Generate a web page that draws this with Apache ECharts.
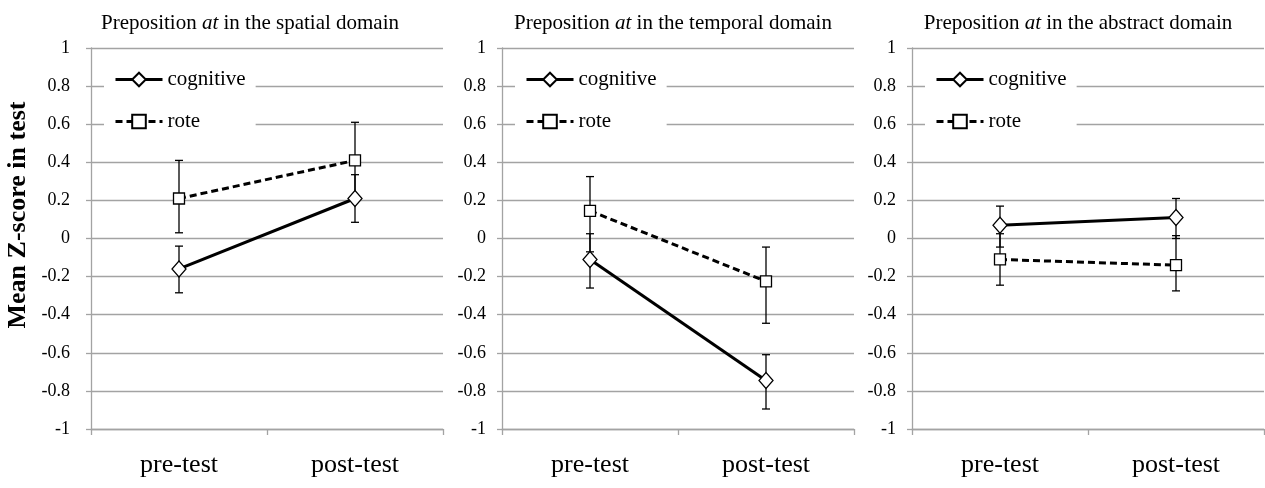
<!DOCTYPE html>
<html>
<head>
<meta charset="utf-8">
<script src="https://cdn.jsdelivr.net/npm/echarts@6/dist/echarts.min.js"></script>
<style>
  html, body { margin: 0; padding: 0; background: #fff; }
  #chart { width: 1265px; height: 488px; }
</style>
</head>
<body>
<div id="chart"></div>
<script>
// Test phases on the category axis
const phases = ['pre-test', 'post-test'];
// Domain of the preposition "at" shown in each panel
const domains = ['spatial', 'temporal', 'abstract'];
const groups = ['cognitive', 'rote'];

// Mean Z-scores per panel [pre, post]
const cognitiveMeans = [[-0.16, 0.21], [-0.11, -0.745], [0.07, 0.11]];
const roteMeans      = [[0.21, 0.41], [0.145, -0.225], [-0.11, -0.14]];
// Error bar ends per panel [pre, post]
const cognitiveLow  = [[-0.285, 0.085], [-0.26, -0.895], [-0.045, 0.0]];
const cognitiveHigh = [[-0.04, 0.335], [0.025, -0.61], [0.17, 0.21]];
const roteLow       = [[0.03, 0.21], [-0.07, -0.445], [-0.245, -0.275]];
const roteHigh      = [[0.41, 0.61], [0.325, -0.045], [0.025, 0.015]];

// Value axis range and step
const yMin = -1, yMax = 1, yStep = 0.2;

const SERIF = 'Liberation Serif';
const GRID_GRAY = '#a3a3a3';

// Panel frames (pixels)
const panelLeft = [91, 502, 912];
const panelWidth = 352;
const panelTop = 48;
const panelHeight = 381;
const titleCenter = [245, 668, 1073];

const chart = echarts.init(document.getElementById('chart'), null, { renderer: 'canvas' });

const grids = [], xAxes = [], yAxes = [], series = [], titles = [], legends = [];

function errorBars(g, low, high) {
  return {
    type: 'custom',
    xAxisIndex: g * 2,
    yAxisIndex: g,
    z: 1,
    silent: true,
    encode: { x: 0, y: [1, 2] },
    data: phases.map((p, i) => [i, low[i], high[i]]),
    renderItem(params, api) {
      const top = api.coord([api.value(0), api.value(2)]);
      const bot = api.coord([api.value(0), api.value(1)]);
      const hw = 4;
      const st = { stroke: '#000', lineWidth: 1.3, fill: null };
      return {
        type: 'group',
        children: [
          { type: 'line', shape: { x1: top[0], y1: top[1], x2: bot[0], y2: bot[1] }, style: st },
          { type: 'line', shape: { x1: top[0] - hw, y1: top[1], x2: top[0] + hw, y2: top[1] }, style: st },
          { type: 'line', shape: { x1: bot[0] - hw, y1: bot[1], x2: bot[0] + hw, y2: bot[1] }, style: st }
        ]
      };
    }
  };
}

domains.forEach((dom, g) => {
  grids.push({
    left: panelLeft[g], top: panelTop, width: panelWidth, height: panelHeight,
    containLabel: false
  });

  // category labels along the bottom
  xAxes.push({
    type: 'category', gridIndex: g, data: phases, position: 'bottom',
    axisLine: { show: false }, axisTick: { show: false },
    axisLabel: { fontFamily: SERIF, fontSize: 26, color: '#000', margin: 23 }
  });
  // category axis line crossing at zero
  xAxes.push({
    type: 'category', gridIndex: g, data: phases, position: 'bottom',
    axisLine: { show: true, onZero: true, lineStyle: { color: GRID_GRAY, width: 1.3 } },
    axisTick: { show: true, length: 6, lineStyle: { color: GRID_GRAY, width: 1.3 } },
    axisLabel: { show: false }
  });

  yAxes.push({
    type: 'value', gridIndex: g, min: yMin, max: yMax, interval: yStep,
    axisLine: { show: true, lineStyle: { color: GRID_GRAY, width: 1.3 } },
    axisTick: { show: true, length: 5, lineStyle: { color: GRID_GRAY, width: 1.3 } },
    splitLine: { show: true, lineStyle: { color: GRID_GRAY, width: 1.3 } },
    axisLabel: {
      fontFamily: SERIF, fontSize: 18, color: '#000', margin: g === 0 ? 21 : 16,
      formatter: v => String(Math.round(v * 10) / 10)
    }
  });

  titles.push({
    text: '{n|Preposition }{i|at}{n| in the ' + dom + ' domain}',
    left: titleCenter[g], top: 8, textAlign: 'center',
    textStyle: {
      fontFamily: SERIF, fontWeight: 'normal',
      rich: {
        n: { fontFamily: SERIF, fontSize: 21, fontWeight: 'normal', color: '#000' },
        i: { fontFamily: SERIF, fontSize: 21, fontWeight: 'normal', fontStyle: 'italic', color: '#000' }
      }
    }
  });

  legends.push({
    data: groups, orient: 'vertical',
    left: panelLeft[g] + 13, top: 61,
    padding: [8, 10, 8, 10], itemGap: 21,
    itemWidth: 47, itemHeight: 17,
    backgroundColor: '#fff',
    selectedMode: false,
    lineStyle: { width: 3 },
    formatter: '{t|{name}}',
    textStyle: {
      fontFamily: SERIF, fontSize: 21, color: '#000',
      rich: { t: { fontFamily: SERIF, fontSize: 21, color: '#000', lineHeight: 20 } }
    }
  });

  series.push(errorBars(g, cognitiveLow[g], cognitiveHigh[g]));
  series.push(errorBars(g, roteLow[g], roteHigh[g]));

  series.push({
    name: 'cognitive', type: 'line', xAxisIndex: g * 2, yAxisIndex: g, z: 3,
    data: cognitiveMeans[g],
    symbol: 'diamond', symbolSize: [14, 16], showAllSymbol: true,
    lineStyle: { color: '#000', width: 3 },
    itemStyle: { color: '#fff', borderColor: '#000', borderWidth: 1.3 },
    emphasis: { disabled: true }
  });
  series.push({
    name: 'rote', type: 'line', xAxisIndex: g * 2, yAxisIndex: g, z: 3,
    data: roteMeans[g],
    symbol: 'rect', symbolSize: 11,
    lineStyle: { color: '#000', width: 3, type: [7, 4] },
    itemStyle: { color: '#fff', borderColor: '#000', borderWidth: 1.3 },
    emphasis: { disabled: true }
  });
});

chart.setOption({
  animation: false,
  backgroundColor: '#fff',
  textStyle: { fontFamily: SERIF },
  title: titles,
  legend: legends,
  grid: grids,
  xAxis: xAxes,
  yAxis: yAxes,
  series: series,
  graphic: [{
    type: 'text', x: 18, y: 215, rotation: Math.PI / 2,
    style: {
      text: 'Mean Z-score in test', fontFamily: SERIF, fontWeight: 'bold',
      fontSize: 26, fill: '#000', textAlign: 'center', textVerticalAlign: 'middle'
    }
  }]
});
</script>
</body>
</html>
